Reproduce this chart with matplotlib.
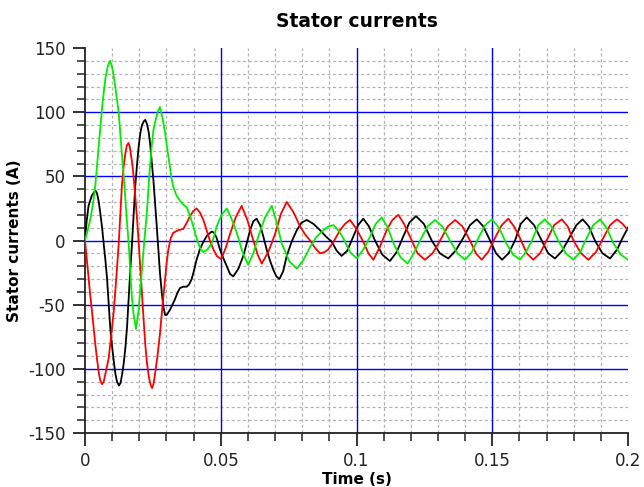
#### Stator currents - 2D plot with matplotlib

import numpy as np
import matplotlib
matplotlib.use('Agg')
import matplotlib.pyplot as plt
from matplotlib.ticker import MultipleLocator

## Data: (time in s, current in A)

black = [(0.0000, 0), (0.0006, 15), (0.0013, 27), (0.0025, 35), (0.0038, 39), (0.0044, 37),
         (0.0050, 31), (0.0056, 22), (0.0063, 10), (0.0069, -3), (0.0075, -15), (0.0081, -29),
         (0.0087, -48), (0.0093, -68), (0.0100, -83), (0.0106, -94), (0.0112, -104), (0.0118, -110),
         (0.0125, -113), (0.0131, -111), (0.0137, -104), (0.0143, -95), (0.0149, -83), (0.0155, -67),
         (0.0161, -45), (0.0167, -22), (0.0173, -3), (0.0179, 20), (0.0185, 42), (0.0192, 60),
         (0.0198, 74), (0.0204, 84), (0.0210, 90), (0.0217, 93), (0.0222, 94), (0.0228, 91),
         (0.0235, 84), (0.0240, 75), (0.0245, 63), (0.0252, 47), (0.0258, 30), (0.0264, 12),
         (0.0270, -7), (0.0276, -25), (0.0283, -41), (0.0289, -52), (0.0295, -58), (0.0301, -58),
         (0.0307, -56), (0.0313, -54), (0.0322, -50), (0.0331, -46), (0.0340, -41), (0.0350, -37),
         (0.0362, -36), (0.0375, -36), (0.0384, -34), (0.0393, -30), (0.0402, -23), (0.0411, -15),
         (0.0423, -7), (0.0436, -1), (0.0450, 4), (0.0467, 7), (0.0476, 6), (0.0485, 2),
         (0.0497, -7), (0.0510, -14), (0.0522, -20), (0.0534, -26), (0.0546, -28), (0.0565, -22),
         (0.0583, -12), (0.0596, -2), (0.0608, 8), (0.0620, 15), (0.0632, 17), (0.0645, 12),
         (0.0657, 3), (0.0669, -7), (0.0682, -16), (0.0694, -23), (0.0705, -28), (0.0716, -30),
         (0.0730, -24), (0.0743, -12), (0.0761, -1), (0.0780, 8), (0.0798, 14), (0.0817, 16),
         (0.0841, 13), (0.0866, 8), (0.0888, 3), (0.0909, -1), (0.0927, -8), (0.0945, -12),
         (0.0966, -8), (0.0988, 3), (0.1006, 12), (0.1025, 17), (0.1046, 11), (0.1068, 0),
         (0.1095, -11), (0.1123, -16), (0.1148, -9), (0.1172, 3), (0.1195, 14), (0.1219, 19),
         (0.1248, 13), (0.1277, 0), (0.1307, -10), (0.1338, -14), (0.1365, -8), (0.1393, 2),
         (0.1418, 12), (0.1443, 16.5), (0.1467, 11), (0.1492, 0), (0.1514, -10), (0.1536, -15),
         (0.1560, -10), (0.1584, 0), (0.1605, 13), (0.1627, 18), (0.1654, 12), (0.1682, 0),
         (0.1706, -10), (0.1731, -14), (0.1758, -8), (0.1786, 3), (0.1810, 12), (0.1833, 16.5),
         (0.1856, 11), (0.1878, 0), (0.1906, -10), (0.1934, -14), (0.1960, -7), (0.1980, 2),
         (0.2000, 10)]

red = [(0.0000, 0), (0.0010, -22), (0.0019, -42), (0.0029, -62), (0.0038, -81), (0.0044, -92),
       (0.0050, -102), (0.0056, -109), (0.0063, -112), (0.0069, -110), (0.0075, -104), (0.0081, -98),
       (0.0087, -92), (0.0096, -75), (0.0106, -55), (0.0115, -30), (0.0124, -3), (0.0130, 20),
       (0.0136, 43), (0.0142, 57), (0.0148, 67), (0.0154, 74), (0.0160, 76), (0.0165, 73),
       (0.0169, 67), (0.0174, 60), (0.0178, 52), (0.0185, 35), (0.0192, 16), (0.0198, -3),
       (0.0204, -22), (0.0210, -42), (0.0216, -62), (0.0222, -81), (0.0228, -95), (0.0235, -106),
       (0.0241, -112), (0.0247, -115), (0.0252, -112), (0.0258, -104), (0.0267, -90), (0.0276, -73),
       (0.0285, -52), (0.0295, -30), (0.0301, -17), (0.0307, -7), (0.0316, 2), (0.0325, 6),
       (0.0343, 8), (0.0362, 9), (0.0375, 14), (0.0387, 19), (0.0399, 23), (0.0411, 25),
       (0.0423, 22), (0.0436, 16), (0.0448, 8), (0.0460, 0), (0.0473, -7), (0.0485, -12),
       (0.0501, -14.5), (0.0518, -6), (0.0534, 5), (0.0555, 18), (0.0577, 27), (0.0598, 16),
       (0.0620, 0), (0.0636, -11), (0.0651, -18), (0.0675, -9), (0.0700, 5), (0.0722, 21),
       (0.0743, 30), (0.0768, 22), (0.0792, 11), (0.0810, 5), (0.0829, 0), (0.0848, -6),
       (0.0866, -10), (0.0882, -9), (0.0896, -7), (0.0918, 0), (0.0939, 8), (0.0958, 13),
       (0.0976, 16), (0.1000, 9), (0.1025, -1), (0.1044, -10), (0.1062, -15), (0.1086, -5),
       (0.1111, 8), (0.1132, 16), (0.1154, 20), (0.1175, 13), (0.1197, 3), (0.1225, -10),
       (0.1252, -15), (0.1280, -10), (0.1308, 0), (0.1336, 11), (0.1363, 16), (0.1390, 11),
       (0.1418, 0), (0.1440, -10), (0.1461, -15), (0.1485, -9), (0.1510, 2), (0.1535, 12),
       (0.1559, 17), (0.1580, 11), (0.1602, 2), (0.1627, -10), (0.1651, -15), (0.1676, -10),
       (0.1700, 0), (0.1728, 12), (0.1756, 16.5), (0.1778, 11), (0.1799, 0), (0.1827, -10),
       (0.1854, -15), (0.1882, -9), (0.1909, 2), (0.1934, 12), (0.1959, 16.5), (0.1980, 13),
       (0.2000, 8)]

green = [(0.0000, 0), (0.0010, 8), (0.0020, 17), (0.0029, 28), (0.0038, 43), (0.0047, 65),
         (0.0056, 87), (0.0065, 108), (0.0075, 126), (0.0084, 136), (0.0093, 140), (0.0101, 134),
         (0.0110, 122), (0.0117, 111), (0.0124, 100), (0.0133, 75), (0.0143, 49), (0.0152, 22),
         (0.0161, -3), (0.0167, -25), (0.0173, -45), (0.0180, -59), (0.0188, -69), (0.0197, -55),
         (0.0207, -30), (0.0217, -4), (0.0228, 22), (0.0236, 48), (0.0245, 72), (0.0252, 86),
         (0.0258, 92), (0.0267, 100), (0.0276, 104), (0.0285, 96), (0.0295, 84), (0.0304, 70),
         (0.0313, 57), (0.0319, 48), (0.0325, 42), (0.0337, 35), (0.0350, 31), (0.0362, 28),
         (0.0375, 26), (0.0387, 19), (0.0399, 11), (0.0408, 4), (0.0417, -2), (0.0426, -7),
         (0.0436, -9), (0.0451, -7), (0.0467, -2), (0.0476, 4), (0.0485, 11), (0.0503, 20),
         (0.0522, 25), (0.0540, 17), (0.0559, 6), (0.0580, -9), (0.0601, -19), (0.0620, -10),
         (0.0638, 3), (0.0663, 18), (0.0688, 27), (0.0706, 14), (0.0724, -2), (0.0752, -16),
         (0.0780, -22), (0.0805, -15), (0.0829, -5), (0.0853, 3), (0.0878, 8), (0.0897, 11),
         (0.0915, 12), (0.0933, 8), (0.0951, 2), (0.0976, -9), (0.1001, -14), (0.1025, -7),
         (0.1050, 3), (0.1071, 13), (0.1093, 18), (0.1115, 10), (0.1136, -2), (0.1162, -13),
         (0.1188, -18), (0.1211, -10), (0.1234, 0), (0.1262, 11), (0.1289, 16), (0.1316, 11),
         (0.1344, 0), (0.1372, -10), (0.1400, -15), (0.1425, -9), (0.1449, 2), (0.1474, 12),
         (0.1499, 16.5), (0.1525, 10), (0.1551, -2), (0.1577, -11), (0.1602, -15), (0.1624, -9),
         (0.1646, 0), (0.1670, 12), (0.1694, 16.5), (0.1718, 11), (0.1743, 0), (0.1771, -10),
         (0.1799, -15), (0.1824, -9), (0.1848, 2), (0.1872, 12), (0.1897, 16.5), (0.1921, 10),
         (0.1946, -2), (0.1973, -11), (0.2000, -15)]

x_ticks = [0, 0.05, 0.1, 0.15, 0.2]
x_ticklabels = ['0', '0.05', '0.1', '0.15', '0.2']
y_ticks = [-150, -100, -50, 0, 50, 100, 150]

## Global Setting

plt.rcParams['font.family'] = 'DejaVu Sans'
plt.rcParams['axes.unicode_minus'] = False

## Plot Statement

fig = plt.figure(figsize=(6.44, 4.87), dpi=100)
ax = fig.add_axes([85/644, 1 - 433/487, (628 - 85)/644, (433 - 48)/487])

# blue major grid only inside the box
for xv in x_ticks[1:-1]:
    ax.axvline(xv, color='#0000ff', lw=1.0, zorder=1)
for yv in y_ticks[1:-1]:
    ax.axhline(yv, color='#0000ff', lw=1.0, zorder=1)

for pts, col in [(black, 'black'), (red, '#ff0000'), (green, '#00ee00')]:
    t, i = np.array(pts).T
    ax.plot(t, i, color=col, lw=1.3, zorder=3)

ax.set_xlim(0, 0.2)
ax.set_ylim(-150, 150)

ax.set_xticks(x_ticks)
ax.set_xticklabels(x_ticklabels)
ax.set_yticks(y_ticks)
ax.xaxis.set_minor_locator(MultipleLocator(0.01))
ax.yaxis.set_minor_locator(MultipleLocator(10))

ax.grid(which='minor', color='#b4b4b4', linestyle=(0, (2.5, 2)), lw=0.9, zorder=0)
ax.set_axisbelow(True)

for s in ['top', 'right']:
    ax.spines[s].set_visible(False)
for s in ['left', 'bottom']:
    ax.spines[s].set_color('#222222')
    ax.spines[s].set_linewidth(1.3)

ax.tick_params(which='major', length=9, width=1.3, color='#222222',
               labelsize=12, labelcolor='#222222', pad=5)
ax.tick_params(which='minor', length=6, width=1.1, color='#222222')

## Title

ax.set_title('Stator currents', fontsize=13.5, fontweight='bold', pad=15)
ax.set_xlabel('Time (s)', fontsize=11, fontweight='bold', labelpad=1)
ax.set_ylabel('Stator currents (A)', fontsize=11, fontweight='bold', labelpad=4)

## Figure Output

fig.savefig('out.png', dpi=100)
